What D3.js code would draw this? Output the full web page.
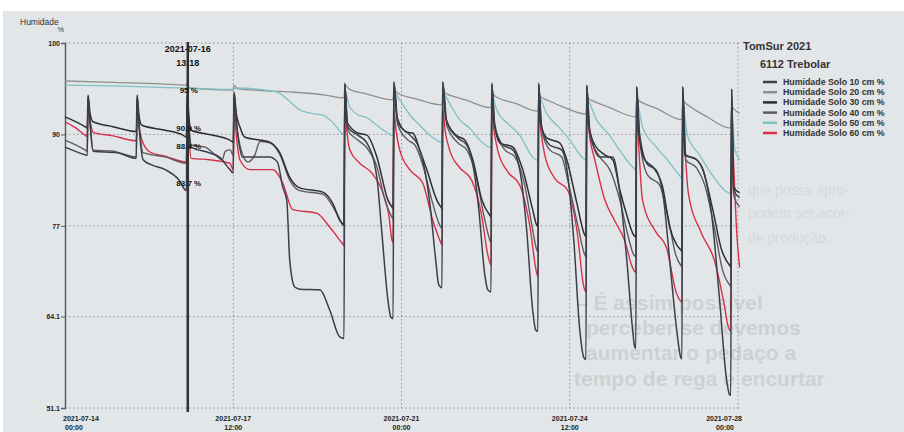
<!DOCTYPE html>
<html>
<head>
<meta charset="utf-8">
<script src="https://cdn.jsdelivr.net/npm/d3@7"></script>
<style>
  html, body { margin: 0; padding: 0; background: #fff; }
  svg { display: block; font-family: "Liberation Sans", Arial, sans-serif; }
</style>
</head>
<body>
<div id="chart"></div>
<script>
// --- data: [hours since 2021-07-14 00:00, humidity %] ---
const solo10 = [
  [0, 88.2], [10, 87.1], [11.1, 87.0], [11.5, 95.2], [12.5, 91.5], [14, 87.6], [26, 87.4], [35.6, 86.6],
  [36, 95.2], [37, 91.0], [39, 86.4], [43, 85.7], [50, 85.0], [57, 83.5], [60.6, 82.0],
  [61, 95.5], [62, 90.0], [63, 88.2], [72, 87.4], [77, 86.8], [82.3, 85.0], [84, 84.5],
  [84.4, 95.9], [85.5, 92.0], [87, 88.5], [88.5, 86.8], [102, 86.8], [106, 86.1], [108.7, 82.5], [110.7, 80.7],
  [112.2, 72.1], [114.7, 68.3], [117.2, 68.0], [127.2, 67.9], [132.2, 65.0], [137.2, 61.2], [139.3, 61.0],
  [139.7, 97.1], [141.2, 91.0], [146.2, 89.9], [150.7, 88.8], [155.7, 83.9], [158.2, 76.0], [161.2, 66.5], [162.7, 64.0], [163.8, 63.8],
  [164.2, 97.3], [166.2, 91.6], [172.2, 89.9], [176.2, 88.5], [180.1, 84.2], [182.1, 80.3], [185.1, 72.1], [186.6, 68.6], [188.2, 68.2],
  [188.6, 97.3], [190.6, 91.8], [196.1, 89.5], [200.6, 88.5], [204.1, 85.0], [206.6, 79.3], [209.6, 70.0], [211.1, 67.9], [212.7, 67.6],
  [213.1, 97.1], [214.6, 91.3], [218.6, 88.5], [223.6, 87.8], [227.5, 84.2], [230.5, 76.4], [233.5, 65.0], [235, 62.2], [236.1, 62.0],
  [236.5, 97.1], [238, 91.0], [242, 88.5], [248, 87.8], [251, 84.2], [254, 75.0], [257, 62.2], [259, 58.3], [260.1, 58.0],
  [260.5, 96.9], [262, 90.6], [267, 86.8], [273.5, 86.8], [277, 81.7], [280.5, 72.1], [283.4, 62.2], [284.4, 59.8], [285, 59.6],
  [285.4, 96.7], [286.9, 90.0], [290.9, 85.7], [294.9, 85.0], [298.9, 80.7], [301.9, 72.1], [305.4, 62.2], [307.4, 58.3], [308, 58.1],
  [308.4, 96.7], [309.9, 87.1], [315.4, 86.4], [319.4, 84.2], [322.9, 78.5], [326.8, 66.5], [330.3, 55.1], [331.8, 53.0], [332.4, 52.9],
  [332.8, 96.4], [333.8, 82.1], [336.8, 81.0]
];

const solo20 = [
  [0, 97.6], [24, 97.4], [48, 97.2], [60.6, 97.0], [61, 97.4], [62, 96.6], [84, 96.3], [84.4, 97.0], [86, 96.5],
  [100, 96.2], [115, 96.0], [130, 95.6], [139.3, 95.2],
  [139.7, 97.0], [142.2, 96.4], [150, 95.8], [163.8, 94.9],
  [164.2, 96.3], [166, 95.9], [176, 95.0], [188.2, 94.2],
  [188.6, 96.0], [191, 95.7], [200, 94.9], [212.7, 93.8],
  [213.1, 95.8], [215, 95.4], [225, 94.4], [236.1, 93.3],
  [236.5, 95.4], [239, 95.1], [248, 94.0], [260.1, 92.9],
  [260.5, 95.1], [263, 94.8], [272, 93.8], [285, 92.5],
  [285.4, 95.0], [287, 94.7], [296, 93.6], [308, 92.1],
  [308.4, 94.8], [310, 94.4], [320, 92.6], [332.4, 90.9],
  [332.8, 94.0], [334, 93.6], [336.8, 93.0]
];

const solo30 = [
  [0, 92.5], [10, 91.1], [11.1, 90.9], [11.5, 95.6], [12.5, 93.0], [14, 91.8], [24, 91.1], [35.6, 90.4],
  [36, 95.6], [37, 92.5], [38.4, 91.3], [50, 90.6], [58.9, 89.9], [60.6, 89.6],
  [61, 95.8], [62, 92.0], [63, 90.6], [72, 90.0], [82.3, 89.2], [84, 88.9],
  [84.4, 96.0], [85.5, 93.0], [87.3, 91.1], [89.8, 89.6], [97.3, 89.2], [102.2, 88.9], [107.2, 87.4], [112.2, 83.9],
  [117.2, 82.4], [128.7, 81.8], [134, 80.0], [137.2, 77.8], [139.3, 77.2],
  [139.7, 97.3], [140.7, 91.8], [146.2, 90.2], [150.7, 89.9], [155.7, 86.8], [161.2, 80.7], [163.2, 79.7], [163.8, 79.5],
  [164.2, 97.5], [165.7, 92.5], [170.7, 90.3], [173.7, 90.2], [177.1, 87.8], [180.6, 85.0], [185.6, 80.7], [187.6, 79.7], [188.2, 79.5],
  [188.6, 97.5], [190.1, 92.3], [195.1, 89.9], [199.6, 89.2], [203.6, 86.4], [208.1, 80.7], [212.1, 78.5], [212.7, 78.3],
  [213.1, 97.3], [214.1, 92.1], [217.1, 88.8], [223.6, 88.2], [228.5, 85.0], [233.5, 79.3], [235.5, 77.1], [236.1, 76.9],
  [236.5, 97.3], [237.5, 91.6], [240.5, 89.5], [247, 88.8], [250.5, 86.4], [255.5, 80.3], [259.5, 75.7], [260.1, 75.5],
  [260.5, 97.0], [261.5, 91.3], [264.5, 88.5], [269.5, 87.1], [273.5, 86.4], [277, 82.1], [280.5, 78.5], [283.9, 75.7], [285, 75.4],
  [285.4, 96.8], [286.4, 90.6], [289.4, 86.4], [293.4, 85.4], [298.4, 82.5], [301.9, 76.8], [305.4, 74.3], [307.4, 73.6], [308, 73.4],
  [308.4, 96.8], [309.4, 87.1], [315.4, 86.4], [318.4, 85.0], [323.4, 79.3], [327.8, 73.6], [331.8, 71.4], [332.4, 71.2],
  [332.8, 96.5], [333.8, 82.5], [336.8, 81.7]
];

const solo40 = [
  [0, 89.2], [10, 87.8], [11.1, 87.6], [11.5, 95.4], [12.5, 92.0], [14, 87.8], [24, 87.6], [35.6, 86.8],
  [36, 95.4], [37, 91.5], [39, 87.4], [50, 86.8], [60.6, 85.9],
  [61, 95.6], [62, 91.0], [63, 88.5], [70, 88.2], [75, 87.1], [78.5, 86.4], [80, 87.6], [82.5, 87.8], [84, 87.0],
  [84.4, 95.8], [85.5, 92.0], [87.3, 88.5], [91.3, 86.1], [94.8, 87.1], [97.3, 89.0], [102.2, 88.8], [107.2, 87.2],
  [112.2, 83.5], [117.2, 82.0], [128.7, 81.5], [136.2, 78.5], [139.3, 77.0],
  [139.7, 97.0], [141.2, 90.6], [146.2, 89.2], [150.7, 88.1], [155.7, 85.4], [159.7, 80.7], [162.7, 78.5], [163.8, 78.0],
  [164.2, 97.2], [166.2, 91.3], [171.2, 89.2], [174.7, 88.5], [178.6, 85.7], [183.1, 80.7], [187.1, 77.1], [188.2, 76.6],
  [188.6, 97.2], [190.6, 91.3], [196.1, 88.8], [200.6, 87.8], [205.1, 84.2], [209.1, 78.5], [212.1, 75.0], [212.7, 74.6],
  [213.1, 97.0], [214.6, 91.1], [219.6, 87.8], [224.6, 86.8], [229.5, 82.8], [233.5, 76.4], [235.5, 73.6], [236.1, 73.3],
  [236.5, 97.0], [238, 90.6], [242, 87.8], [248, 86.8], [251, 83.5], [256, 77.1], [259.5, 72.9], [260.1, 72.6],
  [260.5, 96.8], [262, 89.9], [267, 86.8], [272, 85.0], [277, 80.7], [281, 75.7], [283.9, 72.9], [285, 72.6],
  [285.4, 96.6], [286.9, 89.2], [290.9, 84.2], [296.9, 82.8], [300.9, 78.5], [304.9, 72.9], [307.4, 71.4], [308, 71.2],
  [308.4, 96.6], [309.9, 86.4], [315.4, 85.2], [319.4, 82.8], [324.4, 76.4], [328.3, 70.7], [331.8, 68.6], [332.4, 68.4],
  [332.8, 96.3], [333.8, 81.4], [336.8, 79.7]
];

const solo50 = [
  [0, 97.0], [24, 96.9], [48, 96.7], [84, 96.4], [86, 96.6], [100, 96.3], [106, 96.0], [111, 95.0], [117, 93.5],
  [123, 93.0], [129, 92.7], [134, 91.6], [139.3, 90.0],
  [139.7, 96.2], [142.2, 93.9], [146.2, 92.8], [150.7, 92.4], [155.7, 91.3], [161.2, 90.2], [163.8, 89.8],
  [164.2, 96.0], [167.1, 94.9], [172.1, 92.8], [177.1, 91.3], [182.1, 89.9], [185.6, 89.2], [188.2, 88.8],
  [188.6, 95.8], [193, 93.9], [197, 92.1], [202, 90.9], [208.5, 88.8], [212.7, 88.1],
  [213.1, 95.6], [215.5, 93.5], [222, 91.3], [227, 89.9], [233.4, 86.8], [236.1, 86.3],
  [236.5, 95.3], [240.4, 93.0], [247, 90.9], [252, 89.2], [258.4, 86.7], [260.1, 86.3],
  [260.5, 95.0], [265.3, 92.1], [271.8, 89.9], [276.8, 87.8], [283.3, 85.4], [285, 85.0],
  [285.4, 94.8], [288.3, 91.1], [294.3, 88.5], [300.7, 86.4], [306.7, 84.2], [308, 83.8],
  [308.4, 94.5], [310.7, 89.9], [316.7, 87.1], [323.2, 84.2], [329.2, 82.1], [332.4, 81.6],
  [332.8, 94.0], [334.2, 88.2], [336.8, 86.4]
];

const solo60 = [
  [0, 91.8], [5, 91.0], [10, 89.9], [11.1, 89.7], [11.5, 93.8], [12.5, 92.0], [14, 90.3], [24, 89.8], [35.6, 89.1],
  [36, 93.8], [37, 91.0], [38.4, 89.2], [42.4, 87.5], [50, 86.9], [60.6, 86.1],
  [61, 93.8], [62, 89.0], [63, 86.6], [72, 86.4], [82.3, 85.9], [84, 85.0],
  [84.4, 94.0], [85.5, 90.0], [87.3, 86.4], [92.3, 85.0], [103.7, 85.0], [108.7, 83.1], [113.7, 79.3], [125.7, 78.8],
  [132.2, 76.8], [138.2, 74.6], [139.3, 74.2],
  [139.7, 93.5], [140.7, 90.5], [142.2, 87.8], [147.2, 85.9], [153.2, 84.5], [158.7, 81.7], [161.7, 78.5], [163.2, 75.0], [163.8, 74.6],
  [164.2, 93.5], [165.3, 90.5], [167.1, 87.8], [172.1, 85.0], [178.6, 83.1], [183.6, 77.8], [187.1, 75.0], [188.2, 74.3],
  [188.6, 93.5], [189.8, 90.5], [192, 87.8], [197, 85.3], [203, 83.5], [208, 78.5], [211, 73.0], [212.7, 71.4],
  [213.1, 93.3], [214.2, 90.5], [216, 87.8], [221, 84.7], [227, 82.8], [232, 77.1], [235.5, 70.3], [236.1, 69.8],
  [236.5, 93.2], [237.8, 90.0], [239.5, 87.1], [244.4, 83.8], [250.9, 82.1], [255.9, 75.7], [258.9, 68.5], [260.1, 67.6],
  [260.5, 93.0], [262, 89.5], [264.5, 86.4], [269.5, 80.7], [274.3, 77.8], [279.3, 75.0], [283.3, 71.1], [285, 70.4],
  [285.4, 93.0], [286.5, 88.0], [288.3, 80.7], [295.3, 76.0], [300.2, 74.0], [305.2, 67.5], [308, 66.2],
  [308.4, 92.8], [309.5, 88.0], [311.2, 81.7], [317.7, 76.0], [324.2, 72.1], [329, 66.0], [331.2, 62.6], [332.4, 62.0],
  [332.8, 92.5], [333.8, 86.0], [335.2, 76.8], [336.8, 71.1]
];

const yTickValues = [51.1, 64.1, 77, 90, 103];
const yTickLabels = ["51.1", "64.1", "77", "90", "100"];
const xTickDates = ["2021-07-14", "2021-07-17", "2021-07-21", "2021-07-24", "2021-07-28"];
const xTickTimes = ["00:00", "12:00", "00:00", "12:00", "00:00"];

const cursorHour = 61.3;
const cursorValues = [96.3, 90.9, 88.4, 83.1];
const cursorLabels = ["95 %", "90.9 %", "88.4 %", "83.7 %"];

const series = [
  { name: "Humidade Solo 10 cm %", data: solo10, color: "#3b3f4c", width: 1.5 },
  { name: "Humidade Solo 20 cm %", data: solo20, color: "#8e8f91", width: 1.3 },
  { name: "Humidade Solo 30 cm %", data: solo30, color: "#2e2e30", width: 1.5 },
  { name: "Humidade Solo 40 cm %", data: solo40, color: "#625a5e", width: 1.4 },
  { name: "Humidade Solo 50 cm %", data: solo50, color: "#7fc0c5", width: 1.3 },
  { name: "Humidade Solo 60 cm %", data: solo60, color: "#d8304a", width: 1.4 }
];
const drawOrder = [1, 4, 5, 3, 2, 0];

// --- setup ---
const W = 904, H = 432;
const start = new Date(2021, 6, 14, 0, 0);
const toDate = h => new Date(start.getTime() + h * 3600e3);

const svg = d3.select("#chart").append("svg")
  .attr("width", W).attr("height", H);

// photographed page background
svg.append("rect").attr("x", 3).attr("y", 11).attr("width", W - 3).attr("height", H - 11)
  .attr("fill", "#e3e6e8");

// ghost text showing through from the printed page
const ghost = svg.append("g").attr("font-weight", "bold");
[["\u2013 É assim possível", 576, 310], ["perceber se devemos", 586, 335],
 ["aumentar o pedaço a", 586, 360], ["tempo de rega e encurtar", 574, 386]]
  .forEach(([t, gx, gy]) => ghost.append("text").attr("x", gx).attr("y", gy)
    .attr("font-size", 21).attr("fill", "#cdd1d4").text(t));
[["que possa apro-", 748, 195], ["podem ser acor-", 748, 218], ["de produção.", 748, 243]]
  .forEach(([t, gx, gy]) => ghost.append("text").attr("x", gx).attr("y", gy)
    .attr("font-size", 14).attr("font-weight", "normal").attr("fill", "#d5d8db").text(t));

const x = d3.scaleTime().domain([start, new Date(2021, 6, 28)]).range([65, 738]);
const y = d3.scaleLinear().domain([51.1, 103]).range([408, 43]);

// grid
svg.append("g").selectAll("line").data(yTickValues).join("line")
  .attr("x1", 65).attr("x2", 740)
  .attr("y1", d => y(d)).attr("y2", d => y(d))
  .attr("stroke", "#8c9093").attr("stroke-width", 1).attr("stroke-dasharray", "1.5,2.5");

const xTicks = xTickDates.map((d, i) => {
  const [hh, mm] = xTickTimes[i].split(":").map(Number);
  const p = d.split("-").map(Number);
  return new Date(p[0], p[1] - 1, p[2], hh, mm);
});
svg.append("g").selectAll("line").data(xTicks.slice(1)).join("line")
  .attr("x1", d => x(d)).attr("x2", d => x(d))
  .attr("y1", 43).attr("y2", 410)
  .attr("stroke", "#8c9093").attr("stroke-width", 1).attr("stroke-dasharray", "1.5,2.5");

// y axis
const yAxis = svg.append("g").attr("transform", "translate(65,0)")
  .call(d3.axisLeft(y).tickValues(yTickValues).tickSize(4).tickFormat((d, i) => yTickLabels[i]));
yAxis.select(".domain").attr("stroke", "#5a5d60").attr("stroke-width", 1.5);
yAxis.selectAll(".tick line").attr("stroke", "#5a5d60");
yAxis.selectAll(".tick text").attr("font-size", 7).attr("font-weight", "bold").attr("fill", "#222")
  .attr("font-family", "Liberation Sans, Arial, sans-serif").attr("x", -5);

// x labels (two lines each)
const xl = svg.append("g").attr("font-size", 7).attr("font-weight", "bold");
xTicks.forEach((d, i) => {
  const last = i === xTicks.length - 1;
  const anchor = i === 0 ? "start" : (last ? "end" : "middle");
  const px = i === 0 ? x(d) - 2 : (last ? x(d) + 4 : x(d));
  xl.append("text").attr("x", px).attr("y", 421).attr("text-anchor", anchor)
    .attr("fill", "#222").text(xTickDates[i]);
  xl.append("text").attr("x", i === 0 ? px + 2 : (last ? px - 8 : px)).attr("y", 430)
    .attr("text-anchor", anchor).attr("fill", "#222").text(xTickTimes[i]);
});

// axis title
svg.append("text").attr("x", 20).attr("y", 25).attr("font-size", 8.5).attr("fill", "#333").text("Humidade");
svg.append("text").attr("x", 64).attr("y", 32).attr("text-anchor", "end").attr("font-size", 7).attr("fill", "#333").text("%");

// lines
const line = d3.line()
  .x(d => x(toDate(d[0])))
  .y(d => y(d[1]))
  .curve(d3.curveMonotoneX);

svg.append("g").selectAll("path").data(drawOrder.map(i => series[i])).join("path")
  .attr("d", d => line(d.data))
  .attr("fill", "none")
  .attr("stroke", d => d.color)
  .attr("stroke-width", d => d.width)
  .attr("stroke-linejoin", "round");

// cursor
const cx = x(toDate(cursorHour));
svg.append("line").attr("x1", cx).attr("x2", cx).attr("y1", 42).attr("y2", 412)
  .attr("stroke", "#303234").attr("stroke-width", 2.5);
const ct = svg.append("g").attr("font-weight", "bold").attr("fill", "#111").attr("text-anchor", "middle");
ct.append("text").attr("x", cx).attr("y", 52).attr("font-size", 9).text(d3.timeFormat("%Y-%m-%d")(toDate(cursorHour)));
ct.append("text").attr("x", cx).attr("y", 66).attr("font-size", 9).text(d3.timeFormat("%H:%M")(toDate(cursorHour)));
cursorValues.forEach((v, i) => {
  ct.append("text").attr("x", cx + 1).attr("y", y(v) + 3).attr("font-size", 8).text(cursorLabels[i]);
});

// legend
const lg = svg.append("g").attr("font-weight", "bold").attr("fill", "#333");
lg.append("text").attr("x", 743).attr("y", 50).attr("font-size", 11).text("TomSur 2021");
lg.append("text").attr("x", 760).attr("y", 68).attr("font-size", 11).text("6112 Trebolar");
series.forEach((s, i) => {
  const ly = 82 + i * 10.2;
  lg.append("line").attr("x1", 763).attr("x2", 777).attr("y1", ly).attr("y2", ly)
    .attr("stroke", s.color).attr("stroke-width", 2.5);
  lg.append("text").attr("x", 783).attr("y", ly + 3).attr("font-size", 8.8).text(s.name);
});
</script>
</body>
</html>
